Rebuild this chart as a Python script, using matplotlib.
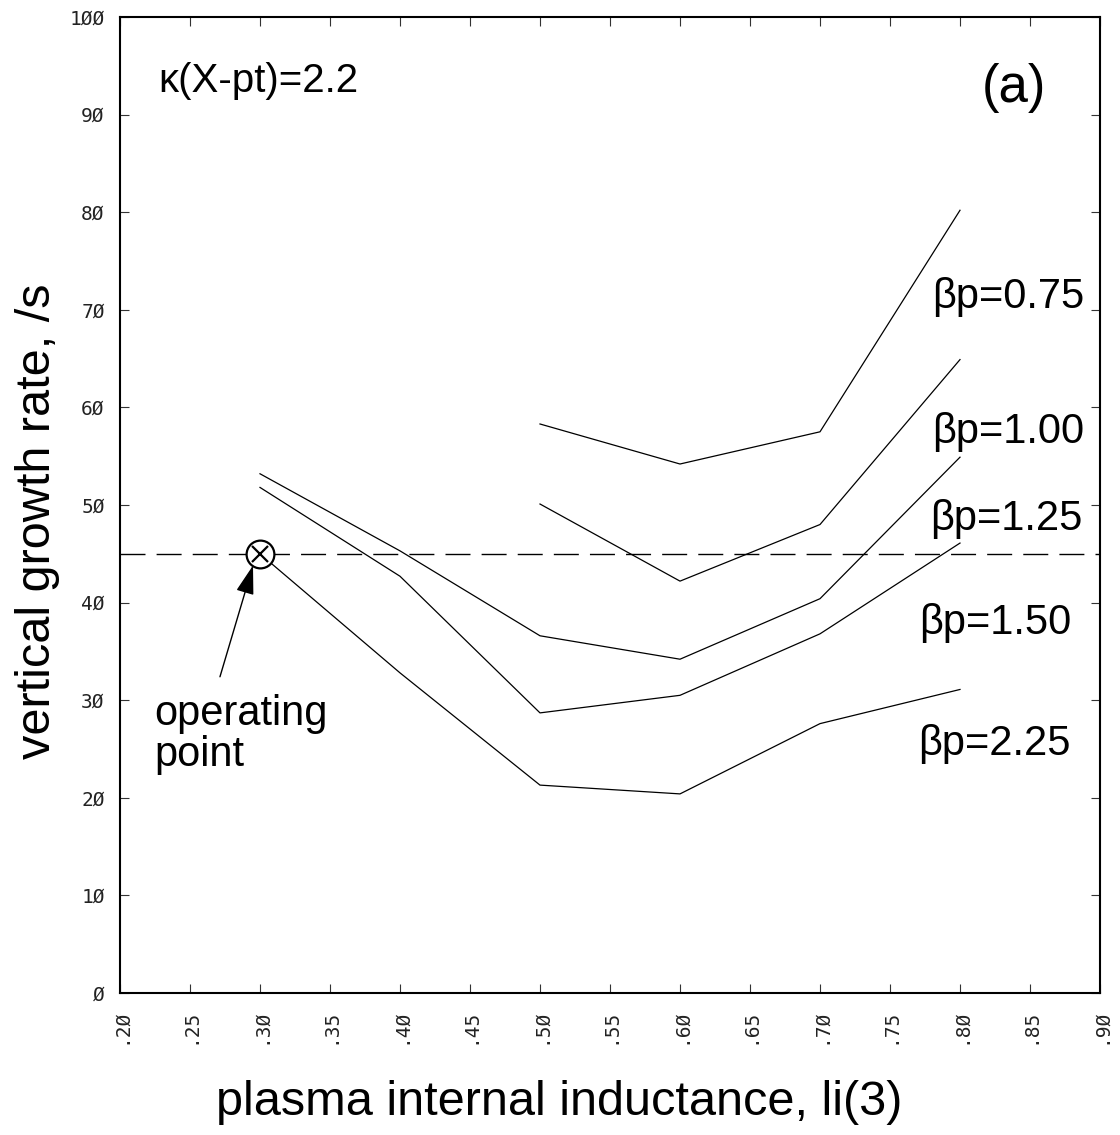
import numpy as np
import matplotlib
matplotlib.use("Agg")
from matplotlib import pyplot as plt

# growth rate vs li(3), one curve per beta_p
li_short = [0.5, 0.6, 0.7, 0.8]
li_long = [0.3, 0.4, 0.5, 0.6, 0.7, 0.8]
bp075 = [58.3, 54.2, 57.5, 80.2]
bp100 = [50.1, 42.2, 48.0, 64.9]
bp125 = [53.2, 45.3, 36.6, 34.2, 40.4, 54.9]
bp150 = [51.8, 42.7, 28.7, 30.5, 36.8, 46.1]
bp225 = [45.0, 32.8, 21.3, 20.4, 27.6, 31.1]

op_li = 0.3
op_rate = 45.0

xticks = [0.20, 0.25, 0.30, 0.35, 0.40, 0.45, 0.50, 0.55, 0.60, 0.65, 0.70, 0.75, 0.80, 0.85, 0.90]
yticks = [0, 10, 20, 30, 40, 50, 60, 70, 80, 90, 100]

# label text and left/center position
bp_labels = ["\u03b2p=0.75", "\u03b2p=1.00", "\u03b2p=1.25", "\u03b2p=1.50", "\u03b2p=2.25"]
bp_label_x = [0.780, 0.780, 0.779, 0.771, 0.770]
bp_label_y = [71.3, 57.5, 48.6, 37.9, 25.5]

SANS = ["Liberation Sans", "DejaVu Sans"]
TICKFONT = "DejaVu Sans Mono"

fig = plt.figure(figsize=(11.2, 11.35), dpi=100)
ax = fig.add_axes([120/1120, 142/1135, 980/1120, 976/1135])

ax.plot(li_short, bp075, color="black", lw=0.9)
ax.plot(li_short, bp100, color="black", lw=0.9)
ax.plot(li_long, bp125, color="black", lw=0.9)
ax.plot(li_long, bp150, color="black", lw=0.9)
ax.plot(li_long, bp225, color="black", lw=0.9)

ax.axhline(op_rate, color="black", lw=1.0, dashes=(18, 8))

# operating point: circle with a cross
ax.plot([op_li], [op_rate], marker="o", ms=20, mfc="white", mec="black", mew=1.6, zorder=5)
ax.plot([op_li], [op_rate], marker="x", ms=11, mec="black", mew=1.6, zorder=6)

ax.annotate("", xy=(0.2950, 43.8), xytext=(0.2714, 32.4),
            arrowprops=dict(arrowstyle="-|>,head_length=0.9,head_width=0.28",
                            mutation_scale=20, color="black", lw=1.0, shrinkA=0, shrinkB=0))
ax.text(0.2243, 26.5, "operating\npoint", ha="left", va="center", fontsize=30,
        family=SANS, linespacing=1.05)

ax.text(0.2271, 93.4, "\u03ba(X-pt)=2.2", ha="left", va="center", fontsize=29, family=SANS)
ax.text(0.8386, 92.7, "(a)", ha="center", va="center", fontsize=38, family=SANS)

for lab, lx, ly in zip(bp_labels, bp_label_x, bp_label_y):
    ax.text(lx, ly, lab, ha="left", va="center", fontsize=30, family=SANS)

ax.set_xlim(0.2, 0.9)
ax.set_ylim(0, 100)
ax.set_xticks(xticks)
ax.set_yticks(yticks)
ax.set_xticklabels([("%.2f" % v)[1:].replace("0", "\u00d8") for v in xticks],
                   rotation=90, family=TICKFONT, fontsize=14, color="#222222")
ax.set_yticklabels([str(v).replace("0", "\u00d8") for v in yticks],
                   family=TICKFONT, fontsize=14, color="#222222")
ax.tick_params(direction="in", length=6.5, width=0.8, top=True, right=True,
               pad=11, color="#333333")

for s in ax.spines.values():
    s.set_linewidth(1.5)

ax.set_xlabel("plasma internal inductance, li(3)", fontsize=35, family=SANS)
ax.set_ylabel("vertical growth rate, /s", fontsize=35, family=SANS)
ax.xaxis.set_label_coords(0.448, -0.0891)
ax.yaxis.set_label_coords(-0.061, 0.4836)

fig.savefig("out.png", dpi=100)
